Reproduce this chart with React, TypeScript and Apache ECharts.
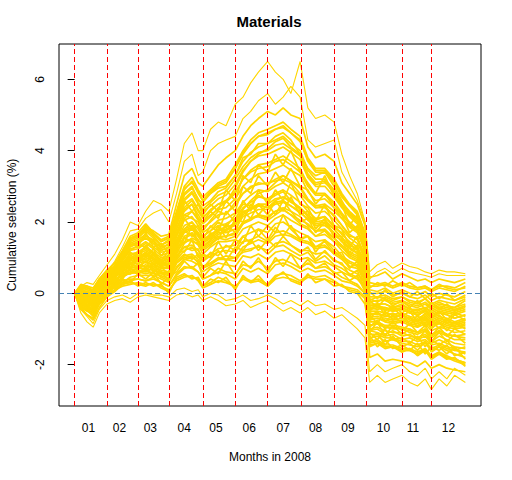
import React, { useEffect, useRef } from "react";
import * as echarts from "echarts";

// trading-day index of each sampled point (0 = start of 2008)
const DAYS = [0, 4, 8, 12, 16, 21, 26, 31, 36, 41, 46, 51, 56, 61, 66, 71, 76, 80, 83, 88, 93, 98, 104, 109, 114, 119, 125, 130, 135, 140, 146, 151, 156, 162, 168, 173, 178, 183, 188, 191, 196, 201, 206, 212, 217, 222, 227, 231, 236, 241, 246, 253];

// first trading day of each month (vertical dashed lines)
const MONTH_STARTS = [0, 21, 41, 61, 83, 104, 125, 147, 168, 189, 212, 231];
// month label positions and texts
const MONTH_LABEL_POS = [9, 29, 49, 71, 91.5, 113, 135, 156, 177, 200, 219, 242];
const MONTH_LABELS = ["01", "02", "03", "04", "05", "06", "07", "08", "09", "10", "11", "12"];
const Y_TICKS = [-2, 0, 2, 4, 6];

const line01 = [0, -0.1, -0.2, -0.3, 0.0, 0.1, 0.15, 0.25, 0.3, 0.25, 0.2, 0.3, 0.15, 0.05, 0.4, 0.5, 0.45, 0.4, 0.2, 0.3, 0.45, 0.35, 0.15, 0.45, 0.35, 0.4, 0.25, 0.5, 0.55, 0.5, 0.35, 0.5, 0.45, 0.5, 0.35, 0.2, 0.15, 0.1, -0.1, -0.9, -0.85, -0.95, -1.0, -1.0, -1.1, -1.15, -1.05, -1.25, -1.1, -1.2, -1.3, -1.3];
const line02 = [0, -0.25, -0.35, -0.45, -0.15, 0.05, 0.2, 0.35, 0.4, 0.4, 0.35, 0.4, 0.3, 0.2, 0.55, 0.75, 0.7, 0.6, 0.4, 0.5, 0.6, 0.55, 0.4, 0.7, 0.6, 0.7, 0.55, 0.8, 0.85, 0.75, 0.6, 0.7, 0.6, 0.65, 0.5, 0.35, 0.3, 0.2, 0.0, -0.2, -0.1, -0.15, -0.25, -0.2, -0.3, -0.35, -0.25, -0.4, -0.3, -0.35, -0.4, -0.3];
const line03 = [0, 0.1, 0.05, 0.0, 0.25, 0.45, 0.4, 0.5, 0.55, 0.6, 0.55, 0.6, 0.45, 0.35, 0.75, 0.95, 0.9, 0.8, 0.6, 0.75, 0.85, 0.8, 0.75, 1.05, 1.0, 1.1, 0.95, 1.15, 1.2, 1.1, 0.95, 1.0, 0.85, 0.9, 0.75, 0.6, 0.5, 0.4, 0.15, -1.25, -1.2, -1.35, -1.3, -1.4, -1.45, -1.5, -1.4, -1.6, -1.5, -1.6, -1.7, -1.8];
const line04 = [0, -0.35, -0.45, -0.55, -0.25, 0.0, 0.25, 0.45, 0.6, 0.55, 0.65, 0.55, 0.5, 0.4, 0.85, 1.05, 1.1, 0.95, 0.75, 0.85, 1.0, 0.95, 0.9, 1.2, 1.25, 1.3, 1.2, 1.4, 1.45, 1.35, 1.2, 1.2, 1.1, 1.15, 0.95, 0.8, 0.65, 0.55, 0.3, -0.55, -0.6, -0.6, -0.7, -0.6, -0.75, -0.8, -0.7, -0.9, -0.75, -0.85, -0.9, -0.8];
const line05 = [0, -0.15, -0.2, -0.3, 0.05, 0.25, 0.35, 0.55, 0.65, 0.7, 0.7, 0.65, 0.55, 0.5, 0.95, 1.2, 1.3, 1.1, 0.9, 1.05, 1.15, 1.2, 1.15, 1.45, 1.5, 1.6, 1.45, 1.7, 1.75, 1.65, 1.5, 1.45, 1.3, 1.35, 1.1, 0.95, 0.75, 0.7, 0.4, 0.1, 0.05, 0.15, 0.0, 0.1, 0.0, -0.05, 0.05, -0.1, 0.0, -0.05, -0.1, 0.05];
const line06 = [0, -0.05, -0.1, -0.15, 0.15, 0.35, 0.45, 0.6, 0.75, 0.8, 0.75, 0.75, 0.6, 0.55, 1.0, 1.3, 1.35, 1.2, 1.0, 1.1, 1.25, 1.3, 1.35, 1.6, 1.7, 1.8, 1.7, 1.95, 2.0, 1.85, 1.7, 1.6, 1.45, 1.5, 1.3, 1.05, 0.9, 0.8, 0.45, -1.05, -1.1, -1.2, -1.15, -1.3, -1.25, -1.35, -1.3, -1.45, -1.4, -1.5, -1.55, -1.7];
const line07 = [0, -0.3, -0.4, -0.5, -0.2, 0.05, 0.3, 0.6, 0.8, 0.85, 0.9, 0.8, 0.7, 0.7, 1.15, 1.45, 1.5, 1.35, 1.1, 1.3, 1.45, 1.45, 1.5, 1.8, 1.9, 2.0, 1.9, 2.1, 2.2, 2.05, 1.9, 1.8, 1.6, 1.65, 1.45, 1.2, 1.0, 0.9, 0.55, -0.4, -0.45, -0.4, -0.5, -0.45, -0.55, -0.6, -0.5, -0.65, -0.55, -0.6, -0.7, -0.6];
const line08 = [0, 0.15, 0.1, 0.05, 0.35, 0.55, 0.6, 0.7, 0.85, 0.9, 1.0, 0.9, 0.75, 0.8, 1.25, 1.55, 1.65, 1.45, 1.25, 1.4, 1.55, 1.6, 1.65, 1.95, 2.05, 2.2, 2.1, 2.3, 2.35, 2.2, 2.05, 1.95, 1.75, 1.8, 1.55, 1.3, 1.1, 1.0, 0.6, -0.75, -0.7, -0.8, -0.85, -0.8, -0.9, -0.95, -0.85, -1.05, -0.95, -1.0, -1.1, -1.05];
const line09 = [0, -0.2, -0.3, -0.35, -0.05, 0.2, 0.45, 0.7, 0.9, 0.95, 1.05, 0.95, 0.8, 0.8, 1.3, 1.7, 1.8, 1.6, 1.4, 1.55, 1.7, 1.7, 1.8, 2.15, 2.25, 2.35, 2.35, 2.5, 2.55, 2.45, 2.3, 2.05, 1.9, 1.9, 1.7, 1.45, 1.25, 1.15, 0.7, -1.35, -1.3, -1.45, -1.45, -1.55, -1.55, -1.65, -1.55, -1.75, -1.65, -1.75, -1.85, -1.95];
const line10 = [0, 0.05, -0.05, -0.1, 0.2, 0.4, 0.5, 0.75, 0.95, 1.05, 1.1, 1.0, 0.85, 0.9, 1.4, 1.8, 1.9, 1.7, 1.5, 1.65, 1.8, 1.85, 1.95, 2.25, 2.4, 2.5, 2.5, 2.65, 2.7, 2.6, 2.4, 2.2, 2.0, 2.05, 1.8, 1.55, 1.35, 1.25, 0.8, -0.25, -0.2, -0.2, -0.3, -0.25, -0.35, -0.4, -0.3, -0.45, -0.35, -0.4, -0.45, -0.35];
const line11 = [0, -0.3, -0.35, -0.45, -0.1, 0.15, 0.4, 0.75, 1.0, 1.1, 1.2, 1.05, 0.9, 0.95, 1.5, 1.9, 2.0, 1.8, 1.6, 1.75, 1.9, 1.95, 2.1, 2.4, 2.55, 2.7, 2.65, 2.8, 2.9, 2.75, 2.55, 2.3, 2.1, 2.15, 1.9, 1.65, 1.45, 1.3, 0.9, -0.8, -0.8, -0.9, -0.9, -0.95, -1.0, -1.1, -1.0, -1.15, -1.05, -1.15, -1.2, -1.15];
const line12 = [0, -0.05, -0.15, -0.2, 0.1, 0.35, 0.55, 0.85, 1.1, 1.15, 1.3, 1.15, 1.0, 1.05, 1.6, 2.05, 2.15, 1.9, 1.7, 1.85, 2.05, 2.1, 2.25, 2.55, 2.75, 2.9, 2.85, 3.0, 3.1, 2.95, 2.75, 2.45, 2.25, 2.3, 2.05, 1.8, 1.55, 1.4, 1.0, -0.5, -0.5, -0.55, -0.6, -0.55, -0.65, -0.7, -0.6, -0.75, -0.65, -0.7, -0.8, -0.7];
const line13 = [0, 0.2, 0.15, 0.1, 0.4, 0.65, 0.75, 1.0, 1.2, 1.25, 1.4, 1.25, 1.05, 1.15, 1.7, 2.2, 2.3, 2.05, 1.85, 2.0, 2.2, 2.25, 2.45, 2.8, 2.95, 3.1, 3.05, 3.2, 3.3, 3.15, 2.95, 2.6, 2.4, 2.4, 2.2, 1.9, 1.65, 1.5, 1.1, -1.15, -1.15, -1.25, -1.25, -1.35, -1.35, -1.45, -1.35, -1.55, -1.45, -1.55, -1.6, -1.65];
const line14 = [0, -0.1, -0.2, -0.25, 0.05, 0.3, 0.6, 0.95, 1.25, 1.3, 1.45, 1.3, 1.15, 1.2, 1.8, 2.35, 2.5, 2.2, 2.0, 2.2, 2.35, 2.4, 2.65, 3.0, 3.2, 3.35, 3.4, 3.5, 3.6, 3.45, 3.3, 2.85, 2.6, 2.65, 2.4, 2.1, 1.85, 1.7, 1.2, -0.1, -0.1, -0.05, -0.15, -0.1, -0.2, -0.25, -0.15, -0.3, -0.2, -0.25, -0.3, -0.15];
const line15 = [0, -0.2, -0.25, -0.35, -0.05, 0.25, 0.6, 1.0, 1.3, 1.4, 1.55, 1.4, 1.2, 1.3, 1.9, 2.5, 2.65, 2.35, 2.15, 2.3, 2.5, 2.6, 2.85, 3.2, 3.45, 3.6, 3.65, 3.75, 3.85, 3.7, 3.5, 3.05, 2.8, 2.8, 2.55, 2.25, 2.0, 1.8, 1.3, -0.65, -0.65, -0.7, -0.75, -0.7, -0.8, -0.85, -0.75, -0.9, -0.8, -0.9, -0.95, -0.9];
const line16 = [0, 0.0, -0.05, -0.1, 0.2, 0.45, 0.65, 1.05, 1.4, 1.5, 1.65, 1.45, 1.3, 1.35, 2.0, 2.6, 2.8, 2.5, 2.3, 2.45, 2.65, 2.75, 3.05, 3.45, 3.7, 3.85, 3.9, 4.0, 4.1, 3.95, 3.75, 3.25, 3.0, 3.0, 2.7, 2.4, 2.15, 1.95, 1.4, -1.0, -0.95, -1.05, -1.1, -1.1, -1.2, -1.25, -1.15, -1.35, -1.2, -1.3, -1.4, -1.45];
const line17 = [0, 0.1, 0.05, 0.0, 0.3, 0.55, 0.75, 1.1, 1.45, 1.55, 1.75, 1.55, 1.35, 1.45, 2.1, 2.75, 2.95, 2.65, 2.45, 2.6, 2.85, 2.95, 3.3, 3.7, 3.95, 4.1, 4.2, 4.3, 4.4, 4.2, 4.0, 3.45, 3.2, 3.2, 2.9, 2.55, 2.3, 2.1, 1.5, -0.3, -0.3, -0.3, -0.4, -0.35, -0.45, -0.5, -0.4, -0.55, -0.45, -0.5, -0.55, -0.45];
const line18 = [0, -0.15, -0.25, -0.3, 0.0, 0.3, 0.7, 1.15, 1.55, 1.65, 1.85, 1.65, 1.45, 1.55, 2.2, 2.9, 3.15, 2.8, 2.6, 2.8, 3.0, 3.1, 3.5, 3.9, 4.2, 4.4, 4.5, 4.6, 4.7, 4.5, 4.3, 3.7, 3.4, 3.4, 3.1, 2.7, 2.45, 2.2, 1.6, 0.2, 0.2, 0.25, 0.15, 0.25, 0.15, 0.1, 0.15, 0.05, 0.15, 0.1, 0.05, 0.2];
const line19 = [0, -0.35, -0.45, -0.55, -0.2, 0.0, 0.2, 0.45, 0.6, 0.7, 0.8, 0.7, 0.55, 0.6, 1.0, 1.4, 1.55, 1.45, 1.3, 1.5, 1.65, 1.75, 2.0, 2.35, 2.6, 2.8, 2.9, 3.1, 3.3, 3.15, 3.0, 2.65, 2.45, 2.5, 2.3, 2.1, 1.9, 1.75, 1.3, -0.6, -0.55, -0.65, -0.65, -0.6, -0.7, -0.75, -0.65, -0.8, -0.7, -0.75, -0.85, -0.75];
const line20 = [0, 0.0, -0.1, -0.2, 0.1, 0.3, 0.5, 0.8, 1.05, 1.15, 1.25, 1.1, 0.95, 1.0, 1.6, 2.1, 2.3, 2.1, 1.95, 2.15, 2.4, 2.55, 2.95, 3.4, 3.7, 3.9, 4.05, 4.25, 4.35, 4.1, 3.9, 3.3, 3.05, 3.1, 2.85, 2.5, 2.25, 2.05, 1.55, -0.45, -0.4, -0.45, -0.5, -0.45, -0.55, -0.6, -0.5, -0.65, -0.55, -0.6, -0.7, -0.6];
const line21 = [0, -0.4, -0.5, -0.6, -0.3, -0.05, 0.1, 0.3, 0.45, 0.5, 0.5, 0.5, 0.4, 0.3, 0.7, 0.95, 1.0, 0.9, 0.7, 0.8, 0.95, 0.95, 1.0, 1.3, 1.4, 1.5, 1.4, 1.6, 1.65, 1.6, 1.45, 1.4, 1.25, 1.3, 1.15, 1.0, 0.85, 0.75, 0.45, 0.0, 0.0, 0.05, -0.05, 0.0, -0.1, -0.15, -0.05, -0.2, -0.1, -0.15, -0.2, -0.05];
const line22 = [0, 0.2, 0.15, 0.1, 0.4, 0.65, 0.85, 1.2, 1.6, 1.7, 1.95, 1.7, 1.5, 1.6, 2.3, 3.0, 3.25, 2.9, 2.7, 2.9, 3.1, 3.2, 3.6, 4.0, 4.3, 4.5, 4.6, 4.7, 4.8, 4.6, 4.4, 3.8, 3.5, 3.5, 3.2, 2.8, 2.5, 2.3, 1.7, -0.7, -0.7, -0.75, -0.8, -0.75, -0.85, -0.9, -0.8, -0.95, -0.85, -0.95, -1.0, -0.95];
const line23 = [0, -0.3, -0.4, -0.5, -0.25, -0.05, 0.1, 0.2, 0.25, 0.3, 0.25, 0.25, 0.2, 0.1, 0.35, 0.45, 0.5, 0.35, 0.15, 0.25, 0.35, 0.3, 0.2, 0.4, 0.3, 0.35, 0.2, 0.4, 0.45, 0.4, 0.3, 0.45, 0.4, 0.4, 0.3, 0.2, 0.1, 0.05, -0.15, -1.4, -1.35, -1.5, -1.5, -1.6, -1.6, -1.7, -1.6, -1.8, -1.7, -1.8, -1.9, -2.0];
const line24 = [0, 0.1, 0.0, -0.05, 0.25, 0.5, 0.55, 0.8, 1.0, 1.0, 1.15, 1.0, 0.85, 0.85, 1.4, 1.75, 1.85, 1.65, 1.45, 1.6, 1.75, 1.8, 1.9, 2.2, 2.35, 2.45, 2.4, 2.6, 2.7, 2.55, 2.4, 2.15, 1.95, 2.0, 1.8, 1.55, 1.35, 1.25, 0.8, -0.35, -0.35, -0.4, -0.45, -0.4, -0.5, -0.55, -0.45, -0.6, -0.5, -0.55, -0.6, -0.5];
const line25 = [0, 0.1, -0.1, -0.05, 0.3, 0.35, 0.6, 0.45, 0.85, 0.7, 0.9, 0.6, 0.75, 0.5, 1.2, 1.15, 1.5, 1.0, 1.1, 1.0, 1.45, 1.1, 1.5, 1.4, 1.9, 1.6, 1.9, 1.7, 2.2, 1.8, 1.55, 1.6, 1.15, 1.5, 1.2, 1.0, 0.7, 0.9, 0.3, -0.6, -0.85, -0.5, -0.75, -0.55, -0.9, -0.6, -0.95, -0.75, -1.0, -0.7, -0.95, -0.85];
const line26 = [0, -0.3, -0.15, -0.4, 0.1, 0.2, 0.5, 0.85, 0.7, 1.2, 1.0, 1.25, 0.8, 1.1, 1.4, 2.1, 1.8, 1.9, 1.5, 1.9, 1.7, 2.3, 2.0, 2.6, 2.3, 2.9, 2.5, 2.9, 2.6, 3.1, 2.5, 2.4, 2.0, 2.5, 1.9, 1.8, 1.3, 1.6, 1.0, -1.1, -0.8, -1.2, -0.9, -1.15, -1.0, -1.3, -1.05, -1.35, -1.1, -1.35, -1.15, -1.4];
const line27 = [0, -0.35, -0.5, -0.4, -0.2, 0.15, 0.15, 0.4, 0.3, 0.55, 0.4, 0.6, 0.25, 0.45, 0.6, 0.9, 0.7, 0.85, 0.45, 0.7, 0.55, 0.9, 0.5, 0.9, 0.7, 1.0, 0.6, 1.0, 0.75, 1.1, 0.7, 0.95, 0.7, 0.85, 0.55, 0.6, 0.35, 0.5, 0.05, -0.5, -0.3, -0.6, -0.4, -0.65, -0.5, -0.8, -0.55, -0.7, -0.6, -0.85, -0.6, -0.75];
const line28 = [0, -0.05, -0.25, -0.1, 0.15, 0.4, 0.7, 1.0, 1.45, 1.3, 1.7, 1.3, 1.4, 1.1, 2.0, 2.6, 2.3, 2.5, 2.2, 2.5, 2.3, 2.9, 2.6, 3.3, 3.1, 3.6, 3.4, 3.9, 3.6, 4.0, 3.4, 3.1, 2.8, 3.3, 2.7, 2.5, 1.9, 2.2, 1.2, -1.3, -1.1, -1.45, -1.2, -1.5, -1.4, -1.6, -1.35, -1.65, -1.5, -1.7, -1.5, -1.85];
const line29 = [0, 0.15, 0.2, 0.0, 0.35, 0.5, 0.55, 0.8, 0.65, 1.0, 0.85, 1.1, 0.9, 0.7, 1.5, 1.4, 1.9, 1.4, 1.3, 1.5, 1.9, 1.55, 2.1, 2.0, 2.5, 2.2, 2.5, 2.2, 2.6, 2.3, 2.0, 2.1, 1.7, 2.0, 1.6, 1.5, 1.05, 1.3, 0.6, -0.2, -0.4, -0.15, -0.35, -0.2, -0.4, -0.2, -0.45, -0.25, -0.45, -0.3, -0.5, -0.35];
const line30 = [0, -0.3, -0.3, -0.5, -0.15, 0.05, 0.35, 0.4, 0.7, 0.55, 0.75, 0.45, 0.6, 0.35, 0.9, 1.1, 0.95, 1.1, 0.7, 0.95, 1.2, 0.9, 1.3, 1.2, 1.5, 1.2, 1.5, 1.3, 1.6, 1.35, 1.15, 1.3, 0.95, 1.2, 0.9, 0.85, 0.5, 0.65, 0.1, -1.1, -1.3, -1.0, -1.3, -1.25, -1.4, -1.2, -1.5, -1.3, -1.45, -1.3, -1.6, -1.5];
const line31 = [0, 0.0, -0.15, -0.25, 0.2, 0.3, 0.6, 0.9, 1.2, 1.35, 1.3, 1.5, 1.05, 1.3, 1.8, 2.3, 2.5, 2.1, 2.0, 2.3, 2.1, 2.6, 2.3, 3.0, 2.8, 3.3, 3.0, 3.4, 3.1, 3.5, 3.0, 2.9, 2.5, 2.8, 2.4, 2.2, 1.7, 1.9, 1.1, -0.7, -0.5, -0.8, -0.6, -0.85, -0.65, -0.95, -0.7, -1.0, -0.8, -1.05, -0.8, -1.0];
const line32 = [0, -0.2, -0.35, -0.2, -0.05, 0.1, 0.2, 0.3, 0.35, 0.2, 0.3, 0.2, 0.25, 0.0, 0.45, 0.55, 0.4, 0.45, 0.2, 0.4, 0.3, 0.45, 0.1, 0.5, 0.3, 0.5, 0.2, 0.45, 0.6, 0.35, 0.25, 0.55, 0.3, 0.4, 0.2, 0.25, 0.05, 0.0, -0.3, -1.2, -1.5, -1.3, -1.55, -1.45, -1.6, -1.4, -1.7, -1.5, -1.6, -1.45, -1.75, -1.65];
const line33 = [0, -0.4, -0.6, -0.7, -0.3, -0.1, 0.25, 0.6, 0.95, 0.8, 1.15, 0.8, 0.95, 0.7, 1.3, 1.75, 1.6, 1.7, 1.35, 1.7, 1.5, 1.95, 1.7, 2.3, 2.1, 2.5, 2.2, 2.6, 2.3, 2.7, 2.2, 2.3, 1.8, 2.1, 1.6, 1.6, 1.15, 1.35, 0.5, 0.05, -0.15, 0.1, -0.1, 0.05, -0.1, 0.05, -0.15, 0.0, -0.15, 0.0, -0.2, -0.1];
const line34 = [0, 0.15, 0.0, 0.05, 0.35, 0.55, 0.8, 1.05, 1.5, 1.6, 1.8, 1.6, 1.35, 1.5, 2.2, 2.8, 3.0, 2.6, 2.55, 2.8, 2.95, 3.0, 3.3, 3.8, 3.9, 4.2, 4.2, 4.4, 4.5, 4.3, 3.9, 3.5, 3.3, 3.4, 3.0, 2.6, 2.2, 2.1, 1.4, -0.45, -0.3, -0.5, -0.35, -0.55, -0.4, -0.65, -0.45, -0.7, -0.5, -0.75, -0.55, -0.65];
const line35 = [0, -0.1, -0.2, -0.35, 0.05, 0.2, 0.3, 0.6, 0.55, 0.75, 0.65, 0.85, 0.55, 0.6, 1.05, 1.3, 1.2, 1.25, 0.9, 1.15, 1.05, 1.35, 1.2, 1.6, 1.4, 1.8, 1.5, 1.85, 1.6, 1.9, 1.5, 1.6, 1.3, 1.45, 1.1, 1.15, 0.75, 0.8, 0.2, -0.95, -0.75, -1.0, -0.8, -1.05, -0.85, -1.1, -0.9, -1.2, -0.95, -1.2, -1.0, -1.15];
const line36 = [0, -0.25, -0.4, -0.45, -0.1, 0.1, 0.45, 0.7, 1.0, 0.95, 1.1, 0.95, 0.75, 0.95, 1.5, 1.8, 2.0, 1.65, 1.6, 1.75, 2.0, 1.85, 2.2, 2.5, 2.45, 2.75, 2.6, 2.75, 2.85, 2.6, 2.35, 2.2, 2.05, 2.15, 1.85, 1.7, 1.4, 1.2, 0.5, -1.5, -1.4, -1.55, -1.5, -1.65, -1.55, -1.75, -1.6, -1.85, -1.7, -1.85, -1.8, -2.05];
const line37 = [0, 0.2, 0.1, 0.05, 0.3, 0.5, 0.4, 0.5, 0.55, 0.65, 0.6, 0.7, 0.45, 0.5, 0.85, 1.0, 1.05, 0.85, 0.75, 0.85, 0.95, 1.05, 1.0, 1.15, 1.2, 1.35, 1.1, 1.3, 1.35, 1.2, 1.05, 1.15, 0.9, 1.05, 0.8, 0.7, 0.55, 0.45, 0.2, 0.15, 0.3, 0.2, 0.35, 0.2, 0.3, 0.15, 0.2, 0.1, 0.25, 0.15, 0.1, 0.15];
const line38 = [0, -0.05, 0.0, -0.2, 0.15, 0.45, 0.5, 0.8, 1.15, 1.0, 1.35, 1.1, 0.9, 1.2, 1.65, 2.2, 2.1, 2.0, 1.75, 2.05, 2.3, 2.2, 2.55, 2.8, 3.0, 3.05, 3.1, 3.15, 3.2, 3.1, 2.8, 2.6, 2.4, 2.45, 2.15, 1.9, 1.6, 1.55, 0.9, -0.6, -0.55, -0.65, -0.55, -0.7, -0.7, -0.8, -0.65, -0.85, -0.7, -0.8, -0.85, -0.75];
const line39 = [0, -0.4, -0.45, -0.65, -0.25, -0.05, 0.2, 0.5, 0.7, 0.75, 0.9, 0.75, 0.65, 0.6, 1.1, 1.55, 1.45, 1.4, 1.2, 1.35, 1.55, 1.5, 1.6, 1.95, 2.1, 2.15, 2.05, 2.2, 2.35, 2.2, 1.95, 1.85, 1.6, 1.75, 1.45, 1.3, 1.05, 0.95, 0.45, -0.15, -0.25, -0.1, -0.2, -0.1, -0.25, -0.3, -0.15, -0.35, -0.25, -0.35, -0.4, -0.2];
const line40 = [0, -0.2, -0.3, -0.4, -0.05, 0.2, 0.55, 0.95, 1.35, 1.45, 1.6, 1.5, 1.25, 1.4, 2.05, 2.65, 2.85, 2.55, 2.35, 2.55, 2.75, 2.85, 3.2, 3.55, 3.8, 3.95, 4.0, 4.15, 4.2, 4.05, 3.85, 3.35, 3.1, 3.15, 2.8, 2.45, 2.2, 2.0, 1.45, -1.05, -1.0, -1.15, -1.05, -1.2, -1.15, -1.3, -1.2, -1.4, -1.3, -1.4, -1.5, -1.55];
const line41 = [0, -0.45, -0.6, -0.75, -0.4, -0.1, 0.05, 0.25, 0.35, 0.4, 0.35, 0.45, 0.3, 0.2, 0.5, 0.7, 0.75, 0.6, 0.4, 0.5, 0.7, 0.6, 0.55, 0.8, 0.75, 0.9, 0.7, 0.9, 0.95, 0.85, 0.7, 0.85, 0.7, 0.75, 0.6, 0.45, 0.35, 0.25, 0.0, -0.35, -0.3, -0.3, -0.4, -0.3, -0.45, -0.45, -0.4, -0.5, -0.4, -0.45, -0.5, -0.4];
const line42 = [0, 0.25, 0.2, 0.15, 0.4, 0.6, 0.75, 1.0, 1.35, 1.4, 1.55, 1.4, 1.2, 1.3, 1.95, 2.4, 2.6, 2.3, 2.1, 2.35, 2.5, 2.55, 2.8, 3.2, 3.4, 3.5, 3.55, 3.7, 3.75, 3.6, 3.4, 3.0, 2.75, 2.75, 2.5, 2.2, 1.95, 1.75, 1.25, -0.9, -0.85, -0.95, -0.95, -1.0, -1.05, -1.1, -1.0, -1.2, -1.05, -1.15, -1.2, -1.25];
const line43 = [0, 0.05, -0.05, -0.1, 0.2, 0.35, 0.55, 0.8, 0.95, 1.0, 1.1, 0.95, 0.8, 0.85, 1.35, 1.75, 1.85, 1.6, 1.45, 1.6, 1.8, 1.75, 1.95, 2.3, 2.35, 2.5, 2.4, 2.55, 2.6, 2.45, 2.25, 2.1, 1.9, 1.95, 1.7, 1.45, 1.3, 1.1, 0.55, -1.45, -1.4, -1.5, -1.5, -1.6, -1.6, -1.7, -1.55, -1.8, -1.65, -1.8, -1.85, -1.95];
const line44 = [0, -0.1, -0.15, -0.2, 0.1, 0.4, 0.75, 1.15, 1.55, 1.6, 1.9, 1.65, 1.45, 1.55, 2.25, 2.95, 3.1, 2.85, 2.6, 2.85, 3.05, 3.15, 3.5, 3.95, 4.2, 4.4, 4.45, 4.6, 4.65, 4.5, 4.25, 3.75, 3.45, 3.45, 3.15, 2.75, 2.45, 2.25, 1.65, 0.3, 0.25, 0.3, 0.2, 0.3, 0.2, 0.15, 0.2, 0.1, 0.2, 0.2, 0.15, 0.3];
const upper1 = [0, 0.2, 0.3, 0.25, 0.5, 0.8, 1.1, 1.5, 2.0, 1.9, 2.3, 2.6, 2.5, 2.3, 3.2, 4.2, 4.5, 4.0, 4.0, 4.6, 4.8, 4.7, 5.3, 5.5, 5.9, 6.2, 6.5, 6.2, 6.0, 5.6, 6.5, 5.2, 4.9, 5.0, 4.8, 3.9, 3.3, 2.8, 2.0, 0.6, 0.8, 0.9, 0.7, 0.85, 0.75, 0.7, 0.6, 0.55, 0.65, 0.6, 0.6, 0.55];
const upper2 = [0, 0.15, 0.2, 0.05, 0.35, 0.6, 0.9, 1.3, 1.75, 1.8, 2.1, 2.25, 2.35, 2.0, 2.8, 3.7, 3.9, 3.3, 3.4, 4.0, 4.2, 4.3, 4.4, 4.9, 5.1, 5.4, 5.6, 5.3, 5.5, 5.8, 5.5, 4.3, 4.1, 4.2, 4.3, 3.4, 3.0, 2.6, 2.0, 0.4, 0.6, 0.7, 0.55, 0.7, 0.6, 0.55, 0.5, 0.45, 0.55, 0.5, 0.5, 0.5];
const upper3 = [0, 0.05, 0.0, -0.05, 0.3, 0.5, 0.75, 1.1, 1.5, 1.6, 1.85, 1.75, 1.6, 1.65, 2.5, 3.3, 3.5, 3.1, 3.0, 3.3, 3.6, 3.8, 4.0, 4.4, 4.7, 4.9, 5.1, 5.0, 5.2, 5.0, 4.9, 4.1, 3.8, 3.9, 3.7, 3.1, 2.8, 2.5, 1.9, 0.45, 0.5, 0.6, 0.4, 0.55, 0.45, 0.35, 0.4, 0.3, 0.4, 0.35, 0.3, 0.4];
const lower1 = [0, -0.55, -0.8, -0.95, -0.55, -0.3, -0.2, -0.15, -0.25, -0.1, -0.05, -0.1, -0.15, -0.2, -0.05, 0.0, -0.1, -0.05, -0.2, -0.1, -0.2, -0.35, -0.3, -0.2, -0.4, -0.3, -0.2, -0.35, -0.5, -0.4, -0.55, -0.4, -0.6, -0.5, -0.7, -0.6, -0.8, -1.0, -1.25, -2.5, -2.3, -2.5, -2.4, -2.3, -2.5, -2.6, -2.4, -2.7, -2.4, -2.6, -2.3, -2.5];
const lower2 = [0, -0.45, -0.65, -0.85, -0.45, -0.2, -0.1, -0.05, -0.15, 0.0, 0.0, -0.05, -0.05, -0.1, 0.1, 0.15, 0.05, 0.1, -0.1, 0.0, -0.05, -0.2, -0.15, -0.05, -0.2, -0.15, -0.05, -0.15, -0.3, -0.2, -0.35, -0.2, -0.35, -0.3, -0.45, -0.4, -0.55, -0.7, -0.9, -2.2, -2.0, -2.2, -2.1, -2.0, -2.2, -2.3, -2.1, -2.4, -2.2, -2.4, -2.1, -2.3];
const lower3 = [0, -0.1, -0.15, -0.25, 0.05, 0.3, 0.45, 0.65, 0.85, 0.9, 0.95, 0.85, 0.7, 0.75, 1.2, 1.6, 1.7, 1.5, 1.3, 1.45, 1.6, 1.6, 1.7, 2.0, 2.1, 2.2, 2.15, 2.3, 2.4, 2.3, 2.15, 1.9, 1.75, 1.75, 1.55, 1.35, 1.15, 1.05, 0.6, -1.8, -1.7, -1.9, -1.85, -1.9, -1.95, -2.05, -1.9, -2.1, -2.0, -2.1, -2.15, -2.2];

// portfolios inside the dense band
const DENSE_LINES = [
  line01, line02, line03, line04, line05, line06, line07, line08, line09, line10,
  line11, line12, line13, line14, line15, line16, line17, line18, line19, line20,
  line21, line22, line23, line24, line25, line26, line27, line28, line29, line30,
  line31, line32, line33, line34, line35, line36, line37, line38, line39, line40,
  line41, line42, line43, line44, upper3, lower3,
];
// isolated outer portfolios
const OUTER_LINES = [upper1, upper2, lower1, lower2];

const FONT = "'Liberation Sans', Arial, Helvetica, sans-serif";
const GOLD = "#FFD700";

export default function App() {
  const ref = useRef<HTMLDivElement>(null);

  useEffect(() => {
    if (!ref.current) return;
    const chart = echarts.init(ref.current, null, { renderer: "svg" });

    const makeSeries = (vals: number[], idx: number, width: number) => ({
      type: "line",
      name: "p" + idx,
      data: DAYS.map((d, i) => [d, vals[i]]),
      symbol: "none",
      showSymbol: false,
      silent: true,
      z: 2,
      lineStyle: { color: GOLD, width },
    });

    const lineSeries = [
      ...DENSE_LINES.map((v, i) => makeSeries(v, i, 1.7)),
      ...OUTER_LINES.map((v, i) => makeSeries(v, 100 + i, 1.1)),
    ];

    const monthLines = {
      type: "line",
      name: "months",
      data: [[0, 0]],
      symbol: "none",
      showSymbol: false,
      silent: true,
      z: 5,
      lineStyle: { opacity: 0 },
      markLine: {
        silent: true,
        symbol: ["none", "none"],
        label: { show: false },
        animation: false,
        lineStyle: { color: "#FF0000", type: [5, 3], width: 1 },
        data: MONTH_STARTS.map((x) => ({ xAxis: x })),
      },
    };

    const zeroLine = {
      type: "line",
      name: "zero",
      data: [[0, 0]],
      symbol: "none",
      showSymbol: false,
      silent: true,
      z: 6,
      lineStyle: { opacity: 0 },
      markLine: {
        silent: true,
        symbol: ["none", "none"],
        label: { show: false },
        animation: false,
        lineStyle: { color: "#4682B4", type: [5, 3], width: 1 },
        data: [{ yAxis: 0 }],
      },
    };

    chart.setOption({
      animation: false,
      backgroundColor: "#ffffff",
      textStyle: { fontFamily: FONT },
      grid: {
        left: 59,
        right: 31,
        top: 44,
        bottom: 74,
        show: true,
        borderColor: "#000",
        borderWidth: 1,
        backgroundColor: "transparent",
        containLabel: false,
      },
      xAxis: {
        type: "value",
        min: -10.12,
        max: 263.12,
        axisLine: { show: false },
        splitLine: { show: false },
        axisTick: {
          show: true,
          customValues: MONTH_STARTS,
          length: 4,
          lineStyle: { color: "#FF0000", width: 1 },
        },
        axisLabel: {
          customValues: MONTH_LABEL_POS,
          formatter: (v: number) => {
            const i = MONTH_LABEL_POS.indexOf(v);
            return i >= 0 ? MONTH_LABELS[i] : "";
          },
          margin: 16,
          fontSize: 12,
          color: "#000",
          fontFamily: FONT,
        },
      },
      yAxis: {
        type: "value",
        min: -3.16,
        max: 6.99,
        axisLine: { show: false },
        splitLine: { show: false },
        axisTick: {
          show: true,
          customValues: Y_TICKS,
          length: 7,
          lineStyle: { color: "#000", width: 1 },
        },
        axisLabel: {
          customValues: Y_TICKS,
          rotate: 90,
          margin: 13,
          fontSize: 12,
          color: "#000",
          fontFamily: FONT,
        },
      },
      graphic: [
        {
          type: "text",
          x: 269,
          y: 21,
          style: {
            text: "Materials",
            textAlign: "center",
            textVerticalAlign: "middle",
            font: `bold 15px ${FONT}`,
            fill: "#000",
          },
        },
        {
          type: "text",
          x: 270,
          y: 457,
          style: {
            text: "Months in 2008",
            textAlign: "center",
            textVerticalAlign: "middle",
            font: `12px ${FONT}`,
            fill: "#000",
          },
        },
        {
          type: "text",
          x: 12,
          y: 225,
          rotation: Math.PI / 2,
          style: {
            text: "Cumulative selection (%)",
            textAlign: "center",
            textVerticalAlign: "middle",
            font: `12px ${FONT}`,
            fill: "#000",
          },
        },
      ],
      series: [...lineSeries, monthLines, zeroLine],
    });

    return () => chart.dispose();
  }, []);

  return (
    <div
      ref={ref}
      style={{ position: "fixed", left: 0, top: 0, width: 512, height: 480, background: "#fff" }}
    />
  );
}
